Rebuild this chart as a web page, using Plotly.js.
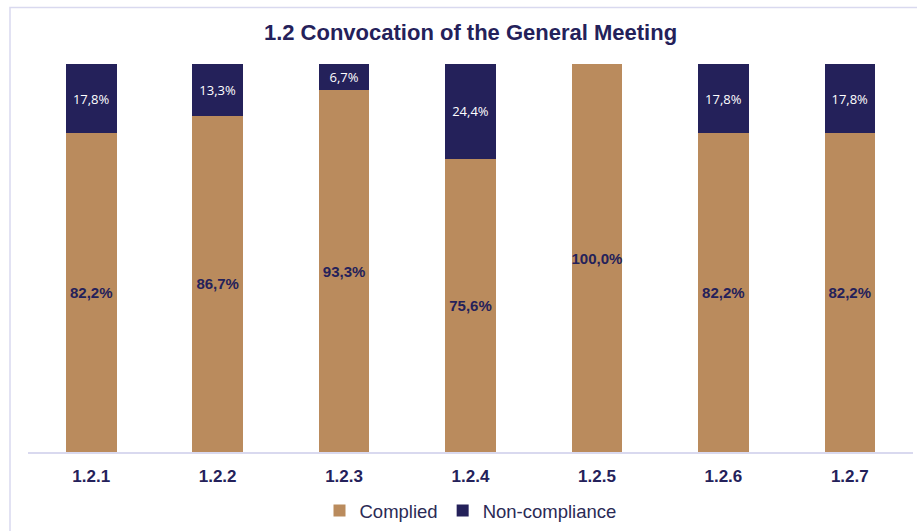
<!DOCTYPE html>
<html>
<head>
<meta charset="utf-8">
<script src="https://cdn.plot.ly/plotly-3.0.1.min.js"></script>
<style>
html,body{margin:0;padding:0;background:#fff;}
#chart{width:917px;height:531px;}
</style>
</head>
<body>
<div id="chart"></div>
<script>
const categories = ['1.2.1','1.2.2','1.2.3','1.2.4','1.2.5','1.2.6','1.2.7'];
const complied = [82.2, 86.7, 93.3, 75.6, 100.0, 82.2, 82.2];
const nonCompliance = [17.8, 13.3, 6.7, 24.4, 0.0, 17.8, 17.8];
const seriesNames = ['Complied', 'Non-compliance'];

const fmt = v => v > 0 ? v.toFixed(1).replace('.', ',') + '%' : '';

const navy = '#24215a';
const tan = '#ba8b5d';

const traces = [
  {
    type: 'bar', name: seriesNames[0], x: categories, y: complied,
    marker: {color: tan},
    text: complied.map(fmt), texttemplate: '%{text}',
    textposition: 'inside', insidetextanchor: 'middle', textangle: 0,
    constraintext: 'none',
    textfont: {family: 'Liberation Sans, Arial, sans-serif', size: 15, color: navy, weight: 'bold'},
    hoverinfo: 'skip'
  },
  {
    type: 'bar', name: seriesNames[1], x: categories, y: nonCompliance,
    marker: {color: navy},
    text: nonCompliance.map(fmt), texttemplate: '%{text}',
    textposition: 'inside', insidetextanchor: 'middle', textangle: 0,
    constraintext: 'none',
    textfont: {family: 'Open Sans, sans-serif', size: 13, color: '#ffffff'},
    hoverinfo: 'skip'
  }
];

const layout = {
  width: 917, height: 531,
  margin: {l: 28, r: 4, t: 64, b: 79},
  paper_bgcolor: '#ffffff', plot_bgcolor: '#ffffff',
  barmode: 'stack', bargap: 0.6,
  showlegend: true,
  title: {
    text: '1.2 Convocation of the General Meeting',
    x: 0.5, xref: 'paper', xanchor: 'center',
    y: 1 - 32/531, yanchor: 'middle',
    font: {family: 'Liberation Sans, Arial, sans-serif', size: 22, color: navy, weight: 'bold'}
  },
  xaxis: {
    type: 'category', showgrid: false, zeroline: false,
    showline: true, linecolor: '#d9d9ef', linewidth: 1.5,
    ticks: '', ticklabelstandoff: 8,
    tickfont: {family: 'Liberation Sans, Arial, sans-serif', size: 17, color: navy, weight: 'bold'}
  },
  yaxis: {
    range: [0, 100], visible: false, showgrid: false, zeroline: false, fixedrange: true
  },
  legend: {
    orientation: 'h', x: 0.5, xanchor: 'center',
    yref: 'container', y: 1 - 511/531, yanchor: 'middle',
    font: {family: 'Liberation Sans, Arial, sans-serif', size: 18.5, color: '#2b2a55'},
    itemwidth: 30, traceorder: 'normal'
  },
  shapes: [{
    type: 'rect', xref: 'paper', yref: 'paper',
    x0: (10-28)/885, x1: 1.02, y0: -0.25, y1: 1 + (64-7.5)/388,
    line: {color: '#d9d9ef', width: 1.5}, fillcolor: 'rgba(0,0,0,0)', layer: 'below'
  }]
};

Plotly.newPlot('chart', traces, layout, {staticPlot: true, displayModeBar: false});
</script>
</body>
</html>
